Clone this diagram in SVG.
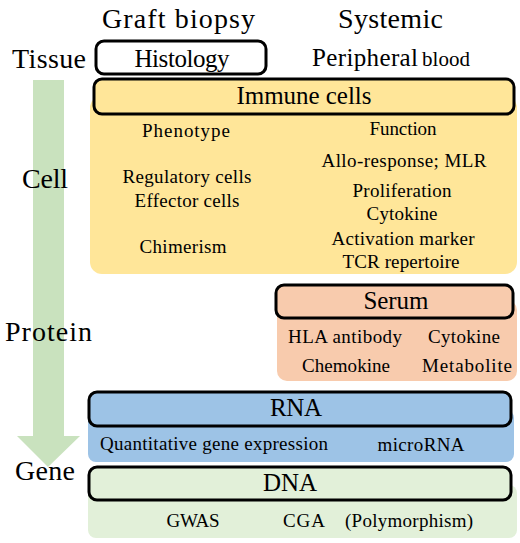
<svg xmlns="http://www.w3.org/2000/svg" width="520" height="543" viewBox="0 0 520 543">
<style>
text{font-family:"Liberation Serif",Tinos,"Times New Roman",Times,"DejaVu Serif","Noto Serif",serif;fill:#000}
.big{font-size:28px}
.hd{font-size:25px;text-anchor:middle}
.t{font-size:19px;text-anchor:middle}
.hdbox{stroke:#000;stroke-width:3}
</style>
<rect width="520" height="543" fill="#fff"/>
<g id="arrow">
<path d="M33,80 H64 V436 H80 L48,467 L17,436 H33 Z" fill="#C9E2BE"/>
</g>
<g id="labels">
<text class="big" x="102" y="28" textLength="153">Graft  biopsy</text>
<text class="big" x="338" y="28" textLength="105">Systemic</text>
<text class="big" x="12" y="68" textLength="74">Tissue</text>
<text class="big" x="22" y="188" textLength="46">Cell</text>
<text class="big" x="5" y="341" textLength="87">Protein</text>
<text class="big" x="15" y="480" textLength="60">Gene</text>
<text x="312" y="66" font-size="25" textLength="106">Peripheral</text>
<text x="422" y="66" font-size="21" textLength="48">blood</text>
</g>
<g id="histology">
<rect class="hdbox" x="96" y="41" width="170" height="33" rx="8" fill="#fff"/>
<text class="hd" x="182" y="67" textLength="95">Histology</text>
</g>
<g id="immune">
<rect x="90" y="96" width="427" height="178" rx="12" fill="#FFE699"/>
<rect class="hdbox" x="94" y="79" width="420" height="35" rx="8" fill="#FFE699"/>
<text class="hd" x="304" y="104" textLength="135">Immune cells</text>
<text class="t" x="186" y="137" textLength="88">Phenotype</text>
<text class="t" x="403" y="135" textLength="67">Function</text>
<text class="t" x="404" y="167" textLength="165">Allo-response;  MLR</text>
<text class="t" x="187" y="183" textLength="129">Regulatory  cells</text>
<text class="t" x="187" y="207" textLength="105">Effector  cells</text>
<text class="t" x="402" y="197" textLength="99">Proliferation</text>
<text class="t" x="402" y="220" textLength="71">Cytokine</text>
<text class="t" x="183" y="253" textLength="87">Chimerism</text>
<text class="t" x="403" y="245" textLength="143">Activation marker</text>
<text class="t" x="401" y="268" textLength="117">TCR repertoire</text>
</g>
<g id="serum">
<rect x="277" y="300" width="240" height="81" rx="10" fill="#F8CBAD"/>
<rect class="hdbox" x="276" y="285" width="237" height="33" rx="8" fill="#F8CBAD"/>
<text class="hd" x="396" y="309" textLength="65">Serum</text>
<text class="t" x="345" y="343" textLength="114">HLA antibody</text>
<text class="t" x="464" y="343" textLength="72">Cytokine</text>
<text class="t" x="346" y="372" textLength="88">Chemokine</text>
<text class="t" x="467" y="372" textLength="90">Metabolite</text>
</g>
<g id="rna">
<rect x="88" y="410" width="426" height="52" rx="8" fill="#9DC3E6"/>
<rect class="hdbox" x="89" y="392" width="422" height="34" rx="8" fill="#9DC3E6"/>
<text class="hd" x="296" y="416" textLength="52">RNA</text>
<text class="t" x="214" y="450" textLength="228">Quantitative  gene  expression</text>
<text class="t" x="421" y="451" textLength="87">microRNA</text>
</g>
<g id="dna">
<rect x="88" y="485" width="429" height="53" rx="8" fill="#E2F0D9"/>
<rect class="hdbox" x="89" y="467" width="422" height="33" rx="8" fill="#E2F0D9"/>
<text class="hd" x="290" y="491" textLength="54">DNA</text>
<text class="t" x="193" y="527" textLength="53">GWAS</text>
<text class="t" x="304" y="527" textLength="42">CGA</text>
<text class="t" x="409" y="527" textLength="128">(Polymorphism)</text>
</g>
<g id="connectors"></g>
</svg>
